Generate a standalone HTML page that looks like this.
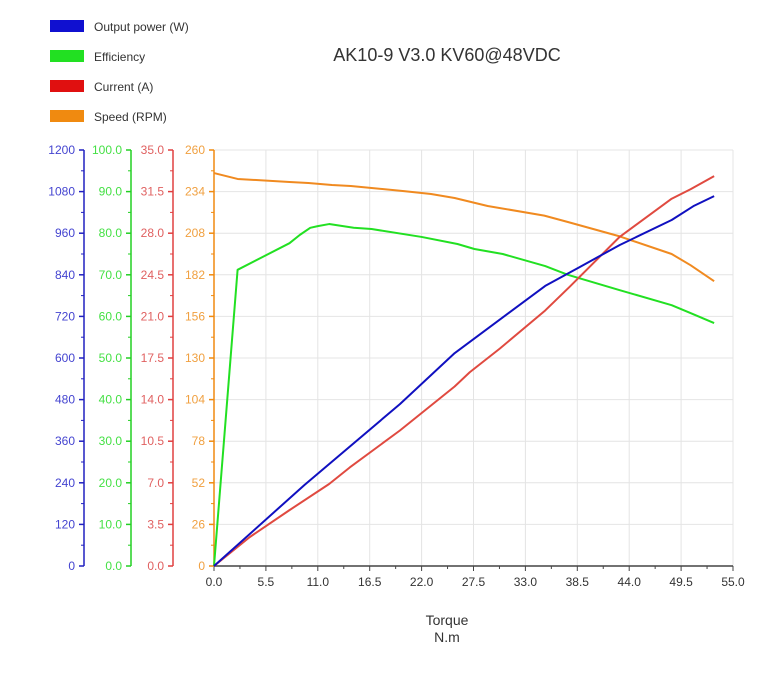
<!DOCTYPE html>
<html><head><meta charset="utf-8"><style>
body{margin:0;background:#fff;font-family:"Liberation Sans",sans-serif;}
svg text{font-family:"Liberation Sans",sans-serif;}
</style></head><body>
<svg id="chart" width="778" height="671">
<g id="legend"></g>
<text x="447" y="61" font-size="18" fill="#333" text-anchor="middle">AK10-9 V3.0 KV60@48VDC</text>
<g id="grid"></g>
<g id="axes"></g>
<g id="series"></g>
<text x="447" y="625" font-size="14" fill="#333" text-anchor="middle">Torque</text>
<text x="447" y="642" font-size="14" fill="#333" text-anchor="middle">N.m</text>
</svg>
<script>
const xTicks=["0.0","5.5","11.0","16.5","22.0","27.5","33.0","38.5","44.0","49.5","55.0"];
const speedT=[0,2.5,8,10,12.5,14.5,20,23,25.5,29,35,37.5,43,48.5,50.5,53];
const speedV=[245.6,241.9,240,239.4,238.1,237.5,234.4,232.5,230,225,219,215,206,195,188,178];
const effT=[0,2.5,8,9.1,10.2,11,12.2,14.8,16.7,22,25.8,27.6,30.6,35.1,37.5,43,48.5,50.5,53];
const effV=[0,71.2,77.6,79.6,81.3,81.7,82.2,81.3,81,79.1,77.4,76.2,75,72.1,70,66.3,62.7,60.8,58.4];
const powT=[0,9.6,19.7,25.5,35.1,38.6,43,48.5,50.8,53];
const powV=[0,234,467,614,808,860,926,998,1038,1067];
const curT=[0,3.8,8,12.2,14.4,19.7,25.5,27.1,30.3,35.1,37.7,43,48.5,50.5,53];
const curV=[0,2.44,4.7,6.9,8.3,11.4,15.1,16.3,18.3,21.5,23.5,27.7,30.9,31.7,32.8];
const blueTicks=["0","120","240","360","480","600","720","840","960","1080","1200"];
const greenTicks=["0.0","10.0","20.0","30.0","40.0","50.0","60.0","70.0","80.0","90.0","100.0"];
const redTicks=["0.0","3.5","7.0","10.5","14.0","17.5","21.0","24.5","28.0","31.5","35.0"];
const orangeTicks=["0","26","52","78","104","130","156","182","208","234","260"];
const legendLabels=["Output power (W)","Efficiency","Current (A)","Speed (RPM)"];
const colors=["#1010d0","#22e022","#e01010","#f08a10"];

const NS="http://www.w3.org/2000/svg";
const X0=214,X1=733,Y0=566,Y1=150;
const xs=t=>X0+t/55*(X1-X0);
const ys=(v,max)=>Y0-v/max*(Y0-Y1);
function mk(tag,attrs,parent){const e=document.createElementNS(NS,tag);for(const k in attrs)e.setAttribute(k,attrs[k]);parent.appendChild(e);return e;}
const gL=document.getElementById('legend'),gG=document.getElementById('grid'),gA=document.getElementById('axes'),gS=document.getElementById('series');
legendLabels.forEach((l,i)=>{
 const r=mk('rect',{x:50,y:20+i*30,width:34,height:12,fill:colors[i]},gL);
 
 
 const t=mk('text',{x:94,y:31+i*30,'font-size':12,fill:'#333'},gL);t.textContent=l;
 
 
});
for(let i=0;i<=10;i++){
 const y=Y0-i*(Y0-Y1)/10;
 if(i>0){const h=mk('line',{x1:X0,x2:X1,y1:y,y2:y,stroke:'#e4e4e4'},gG);
 
 }
 const x=X0+i*(X1-X0)/10;
 if(i>0){const v=mk('line',{x1:x,x2:x,y1:Y1,y2:Y0,stroke:'#e4e4e4'},gG);
 
 }
}
// x axis
const xa=mk('line',{x1:X0,x2:X1,y1:Y0,y2:Y0,stroke:'#444','stroke-width':1.5},gA);


xTicks.forEach((l,i)=>{
 const x=X0+i*(X1-X0)/10;
 mk('line',{x1:x,x2:x,y1:Y0,y2:Y0+5,stroke:'#444'},gA);
 if(i<10){const xm=x+(X1-X0)/20;mk('line',{x1:xm,x2:xm,y1:Y0,y2:Y0+3,stroke:'#444'},gA);}
 const t=mk('text',{x:x,y:586,'font-size':12,fill:'#333','text-anchor':'middle'},gA);t.textContent=l;
 
 
});
const axisDefs=[[84,blueTicks,'#4444d0','#2020c0','power-axis'],[131,greenTicks,'#44e044','#22d022','efficiency-axis'],[173,redTicks,'#e06060','#e04040','current-axis'],[214,orangeTicks,'#f0a040','#f08a10','speed-axis']];
axisDefs.forEach(([ax,ticks,tc,lc,name])=>{
 const g=mk('g',{},gA);
 
 
 mk('line',{x1:ax,x2:ax,y1:Y1,y2:Y0,stroke:lc,'stroke-width':1.5},g);
 ticks.forEach((l,i)=>{
  const y=Y0-i*(Y0-Y1)/10;
  mk('line',{x1:ax-5,x2:ax,y1:y,y2:y,stroke:lc,'stroke-width':1.5},g);
  if(i<10){const ym=y-(Y0-Y1)/20;mk('line',{x1:ax-3,x2:ax,y1:ym,y2:ym,stroke:lc},g);}
  const t=mk('text',{x:ax-9,y:y+4,'font-size':12,fill:tc,'text-anchor':'end'},g);t.textContent=l;
 });
});
function line(T,V,max,color,name){
 const p=mk('polyline',{points:T.map((t,i)=>xs(t)+','+ys(V[i],max)).join(' '),fill:'none',stroke:color,'stroke-width':2,'stroke-linejoin':'round'},gS);
 
 
}
line(speedT,speedV,260,'#f08a20','speed-line');
line(effT,effV,100,'#22e022','efficiency-line');
line(curT,curV,35,'#e04a40','current-line');
line(powT,powV,1200,'#1010c0','power-line');
</script>
</body></html>
